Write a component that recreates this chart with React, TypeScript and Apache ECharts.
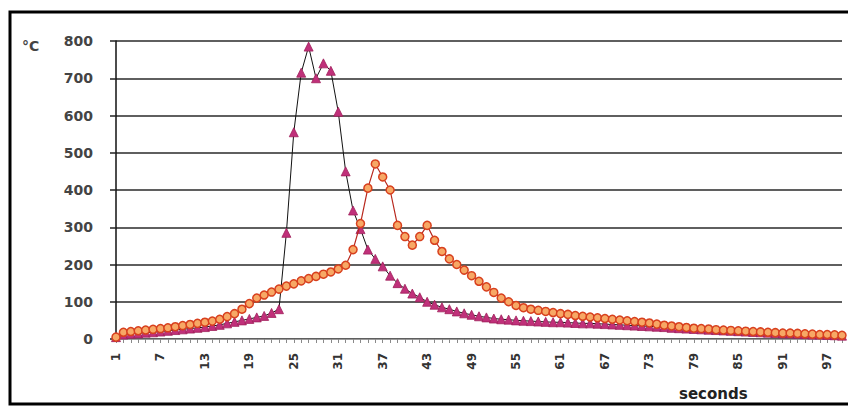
import React, { useEffect, useRef } from "react";
import * as echarts from "echarts";

const categories: string[] = Array.from({ length: 99 }, (_, i) => String(i + 1));

const triangleSeries: number[] = [
  5, 12, 14, 15, 17, 18, 20, 22, 24, 26,
  28, 30, 32, 35, 38, 42, 46, 50, 54, 58,
  62, 70, 80, 285, 555, 715, 785, 700, 740, 720,
  610, 450, 345, 295, 240, 215, 195, 170, 150, 135,
  122, 112, 100, 92, 85, 80, 74, 69, 65, 61,
  58, 55, 53, 52, 50, 49, 48, 47, 46, 45,
  45, 44, 43, 42, 42, 41, 40, 39, 38, 37,
  36, 35, 34, 33, 32, 30, 29, 28, 27, 26,
  25, 24, 23, 22, 21, 20, 19, 18, 17, 16,
  15, 15, 14, 13, 12, 12, 11, 10, 9,
];

const circleSeries: number[] = [
  5, 18, 20, 22, 24, 26, 28, 30, 33, 36,
  39, 42, 45, 48, 53, 60, 68, 80, 95, 110,
  118, 126, 134, 142, 148, 156, 162, 168, 174, 180,
  188, 198, 240, 310, 405, 470, 435, 400, 305, 275,
  252, 275, 305, 265, 235, 215, 200, 185, 170, 155,
  140, 125, 110, 100, 90, 84, 80, 77, 74, 71,
  68, 66, 63, 61, 59, 57, 55, 53, 51, 49,
  47, 45, 43, 40, 37, 35, 33, 31, 29, 28,
  27, 25, 24, 23, 22, 21, 20, 19, 18, 17,
  16, 16, 15, 14, 13, 12, 12, 11, 10,
];

const yTicks = { min: 0, max: 800, interval: 100 };
const yUnit = "°C";
const xTitle = "seconds";

export default function App() {
  const ref = useRef<HTMLDivElement>(null);
  useEffect(() => {
    if (!ref.current) return;
    const chart = echarts.init(ref.current, null, { renderer: "svg" });
    chart.setOption({
      animation: false,
      backgroundColor: "#ffffff",
      grid: { left: 116, top: 41, right: 6, bottom: 71 },
      xAxis: {
        type: "category",
        data: categories,
        boundaryGap: false,
        axisLine: { show: true, lineStyle: { color: "#9a9a9a", width: 1 } },
        axisTick: { show: true, interval: 0, length: 4, lineStyle: { color: "#8a8a8a" } },
        axisLabel: {
          interval: 5,
          rotate: 90,
          margin: 14,
          fontSize: 12,
          fontWeight: "bold",
          color: "#333",
          fontFamily: "DejaVu Sans",
        },
        splitLine: { show: false },
      },
      yAxis: {
        type: "value",
        min: yTicks.min,
        max: yTicks.max,
        interval: yTicks.interval,
        axisLine: { show: true, lineStyle: { color: "#111", width: 1.5 } },
        axisTick: { show: true, length: 6, lineStyle: { color: "#222", width: 1.5 } },
        axisLabel: {
          margin: 23,
          fontSize: 14,
          fontWeight: "bold",
          color: "#444",
          fontFamily: "DejaVu Sans",
        },
        splitLine: { show: true, lineStyle: { color: "#2a2a2a", width: 1.5 } },
      },
      graphic: [
        {
          type: "rect",
          shape: { x: 10, y: 12, width: 860, height: 392 },
          style: { fill: "none", stroke: "#000", lineWidth: 3 },
          silent: true,
        },
        {
          type: "text",
          x: 22,
          y: 39,
          style: {
            text: yUnit,
            fontSize: 14,
            fontWeight: "bold",
            fill: "#444",
            fontFamily: "DejaVu Sans",
          },
        },
        {
          type: "text",
          x: 679,
          y: 386,
          style: {
            text: xTitle,
            fontSize: 15,
            fontWeight: "bold",
            fill: "#222",
            fontFamily: "DejaVu Sans",
          },
        },
      ],
      series: [
        {
          type: "line",
          data: triangleSeries,
          symbol: "triangle",
          symbolSize: 9,
          showAllSymbol: true,
          lineStyle: { color: "#111", width: 1 },
          itemStyle: { color: "#c0307a", borderColor: "#a0205a", borderWidth: 0.8 },
          z: 2,
        },
        {
          type: "line",
          data: circleSeries,
          symbol: "circle",
          symbolSize: 8,
          showAllSymbol: true,
          lineStyle: { color: "#b8281e", width: 1.2 },
          itemStyle: { color: "#f7a865", borderColor: "#d8401e", borderWidth: 1.5 },
          z: 3,
        },
      ],
    });
    return () => chart.dispose();
  }, []);
  return (
    <div
      ref={ref}
      style={{ position: "fixed", left: 0, top: 0, width: 848, height: 410 }}
    />
  );
}
